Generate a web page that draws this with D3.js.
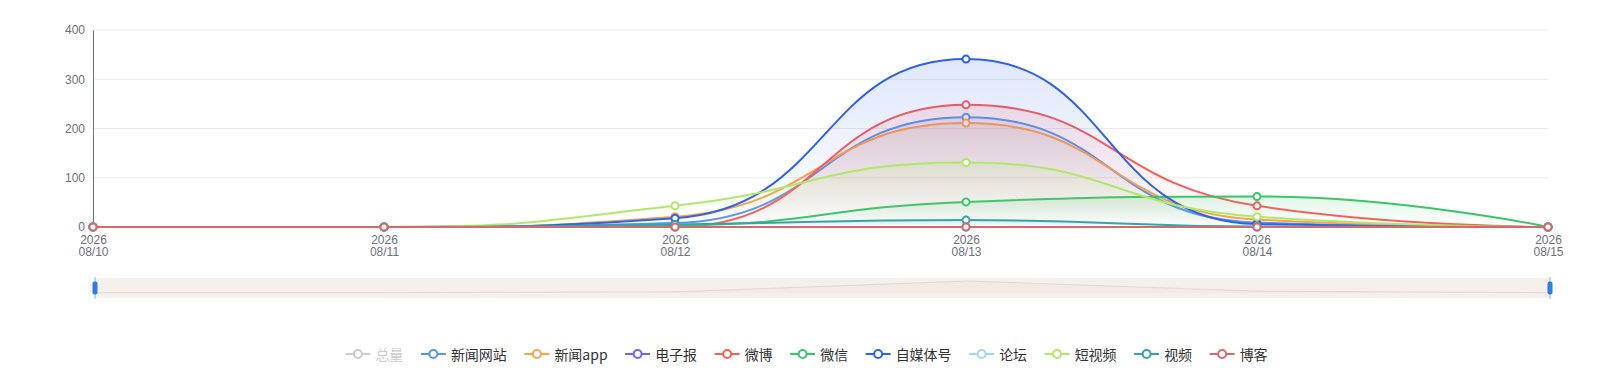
<!DOCTYPE html>
<html>
<head>
<meta charset="utf-8">
<script src="https://cdn.jsdelivr.net/npm/d3@7"></script>
<style>
  body { margin: 0; background: #fff; }
  svg { display: block; font-family: "Microsoft YaHei", "Noto Sans CJK SC", sans-serif; }
</style>
</head>
<body>
<div id="chart"></div>
<script>
// données
const year = "2026";
const days = ["08/10", "08/11", "08/12", "08/13", "08/14", "08/15"];
const yTicks = [0, 100, 200, 300, 400];

const seriesNames = ["总量", "新闻网站", "新闻app", "电子报", "微博", "微信", "自媒体号", "论坛", "短视频", "视频", "博客"];
const seriesColors = ["#cccccc", "#5596f7", "#ffa24c", "#7b5cff", "#ff5b5b", "#3cc46a", "#2f60ea", "#a3d3ff", "#b3e66a", "#36a3a8", "#d46b6b"];
const hiddenSeries = ["总量"];

const total      = [0, 0, 98, 1219, 158, 0];
const newsSite   = [0, 0, 8, 223, 9, 0];
const newsApp    = [0, 0, 21, 211, 15, 0];
const ePaper     = [0, 0, 0, 0, 0, 0];
const weibo      = [0, 0, 0, 248, 43, 0];
const weixin     = [0, 0, 3, 51, 62, 0];
const selfMedia  = [0, 0, 18, 341, 6, 0];
const forum      = [0, 0, 0, 0, 0, 0];
const shortVideo = [0, 0, 43, 131, 21, 0];
const video      = [0, 0, 5, 14, 1, 0];
const blog       = [0, 0, 0, 0, 0, 0];

const seriesValues = [total, newsSite, newsApp, ePaper, weibo, weixin, selfMedia, forum, shortVideo, video, blog];

const width = 1613, height = 382;
const margin = { left: 93, right: 65, top: 30, bottom: 155 };

const svg = d3.select("#chart").append("svg")
    .attr("width", width)
    .attr("height", height);

const defs = svg.append("defs");

const x = d3.scalePoint().domain(days).range([margin.left, width - margin.right]);
const y = d3.scaleLinear().domain([0, 400]).range([height - margin.bottom, margin.top]);

// lissage façon echarts (smooth: true)
function smoothCurve(context) {
    const s = 0.5;
    const clamp = (v, a, b) => Math.max(Math.min(v, Math.max(a, b)), Math.min(a, b));
    return {
        _line: NaN,
        areaStart() { this._line = 0; },
        areaEnd() { this._line = NaN; },
        lineStart() { this._pts = []; },
        point(px, py) { this._pts.push([+px, +py]); },
        lineEnd() {
            const pts = this._pts, n = pts.length;
            if (n) {
                if (this._line) context.lineTo(pts[0][0], pts[0][1]);
                else context.moveTo(pts[0][0], pts[0][1]);
            }
            let cp0 = pts[0];
            for (let i = 1; i < n; i++) {
                const [px, py] = pts[i - 1], [cx, cy] = pts[i];
                let cp1, next0;
                if (i === n - 1) {
                    cp1 = [cx, cy]; next0 = [cx, cy];
                } else {
                    const [nx, ny] = pts[i + 1];
                    const l0 = Math.hypot(cx - px, cy - py), l1 = Math.hypot(nx - cx, ny - cy);
                    const r = l1 / (l0 + l1);
                    let vx = nx - px, vy = ny - py;
                    let ncx = clamp(cx + vx * s * r, cx, nx);
                    let ncy = clamp(cy + vy * s * r, cy, ny);
                    vx = ncx - cx; vy = ncy - cy;
                    let c1x = clamp(cx - vx * l0 / l1, px, cx);
                    let c1y = clamp(cy - vy * l0 / l1, py, cy);
                    vx = cx - c1x; vy = cy - c1y;
                    ncx = cx + vx * l1 / l0; ncy = cy + vy * l1 / l0;
                    cp1 = [c1x, c1y]; next0 = [ncx, ncy];
                }
                context.bezierCurveTo(cp0[0], cp0[1], cp1[0], cp1[1], cx, cy);
                cp0 = next0;
            }
            if (this._line || (this._line !== 0 && n === 1)) context.closePath();
            this._line = 1 - this._line;
        }
    };
}

// grille
svg.append("g")
    .selectAll("line")
    .data(yTicks.filter(d => d > 0))
    .join("line")
    .attr("x1", margin.left).attr("x2", width - margin.right)
    .attr("y1", d => y(d)).attr("y2", d => y(d))
    .attr("stroke", "#ebebeb");

// axe Y
const yAxis = svg.append("g")
    .attr("transform", `translate(${margin.left},0)`)
    .call(d3.axisLeft(y).tickValues(yTicks).tickSize(0).tickPadding(8));
yAxis.select(".domain").attr("stroke", "#6e7079");
yAxis.selectAll("text").attr("fill", "#6e7079").attr("font-size", 12)
    .style("font-family", "inherit");

// axe X
const xAxis = svg.append("g")
    .attr("transform", `translate(0,${y(0)})`)
    .call(d3.axisBottom(x).tickSize(0).tickFormat(""));
xAxis.select(".domain").attr("stroke", "#6e7079");
xAxis.selectAll(".tick").each(function (d) {
    const t = d3.select(this).append("text")
        .attr("fill", "#6e7079").attr("font-size", 12)
        .attr("text-anchor", "middle");
    t.append("tspan").attr("x", 0).attr("y", 17).text(year);
    t.append("tspan").attr("x", 0).attr("y", 29).text(d);
});

// séries
const line = d3.line().x((d, i) => x(days[i])).y(d => y(d)).curve(smoothCurve);
const area = d3.area().x((d, i) => x(days[i])).y0(y(0)).y1(d => y(d)).curve(smoothCurve);

const seriesG = svg.append("g");
seriesNames.forEach((name, k) => {
    if (hiddenSeries.includes(name)) return;
    const values = seriesValues[k];
    const color = seriesColors[k];
    const gid = "grad-" + k;
    const grad = defs.append("linearGradient").attr("id", gid)
        .attr("x1", 0).attr("y1", 0).attr("x2", 0).attr("y2", 1);
    grad.append("stop").attr("offset", 0).attr("stop-color", color).attr("stop-opacity", 0.15);
    grad.append("stop").attr("offset", 1).attr("stop-color", color).attr("stop-opacity", 0);

    const g = seriesG.append("g");
    g.append("path").attr("d", area(values)).attr("fill", `url(#${gid})`);
    g.append("path").attr("d", line(values))
        .attr("fill", "none").attr("stroke", color).attr("stroke-width", 2);
    g.selectAll("circle")
        .data(values)
        .join("circle")
        .attr("cx", (d, i) => x(days[i]))
        .attr("cy", d => y(d))
        .attr("r", 3.5)
        .attr("fill", "#fff")
        .attr("stroke", color)
        .attr("stroke-width", 2);
});

// dataZoom
const zx = d3.scalePoint().domain(days).range([95, 1550]);
const zy = d3.scaleLinear().domain([0, d3.max(total)]).range([292.7, 281]);
const zoomG = svg.append("g");
zoomG.append("rect")
    .attr("x", 95).attr("y", 278).attr("width", 1455).attr("height", 20)
    .attr("fill", "#f5f0ec");
zoomG.append("path")
    .attr("d", d3.area().x((d, i) => zx(days[i])).y0(zy(0)).y1(d => zy(d))(total))
    .attr("fill", "rgba(190,180,170,0.08)");
zoomG.append("path")
    .attr("d", d3.line().x((d, i) => zx(days[i])).y(d => zy(d))(total))
    .attr("fill", "none").attr("stroke", "rgba(170,160,150,0.25)");
[95, 1550].forEach(hx => {
    zoomG.append("rect").attr("x", hx - 0.5).attr("y", 277).attr("width", 1).attr("height", 22)
        .attr("fill", "#8fb6ee");
    zoomG.append("rect").attr("x", hx - 2.5).attr("y", 281.5).attr("width", 5).attr("height", 13)
        .attr("rx", 2).attr("fill", "#2f7de1");
});

// légende
const legend = svg.append("g");
let lx = 0;
seriesNames.forEach((name, k) => {
    const off = hiddenSeries.includes(name);
    const color = off ? "#cccccc" : seriesColors[k];
    const item = legend.append("g").attr("transform", `translate(${lx},0)`);
    item.append("line").attr("x1", 0).attr("x2", 25).attr("y1", 0).attr("y2", 0)
        .attr("stroke", color).attr("stroke-width", 2);
    item.append("circle").attr("cx", 12.5).attr("cy", 0).attr("r", 4)
        .attr("fill", "#fff").attr("stroke", color).attr("stroke-width", 2);
    const t = item.append("text").attr("x", 30).attr("y", 0)
        .attr("dominant-baseline", "central")
        .attr("font-size", 14)
        .attr("fill", off ? "#cccccc" : "#333")
        .text(name);
    lx += 30 + t.node().getComputedTextLength() + 17.5;
});
const legendW = lx - 17.5;
legend.attr("transform", `translate(${(width - legendW) / 2},354)`);
</script>
</body>
</html>
